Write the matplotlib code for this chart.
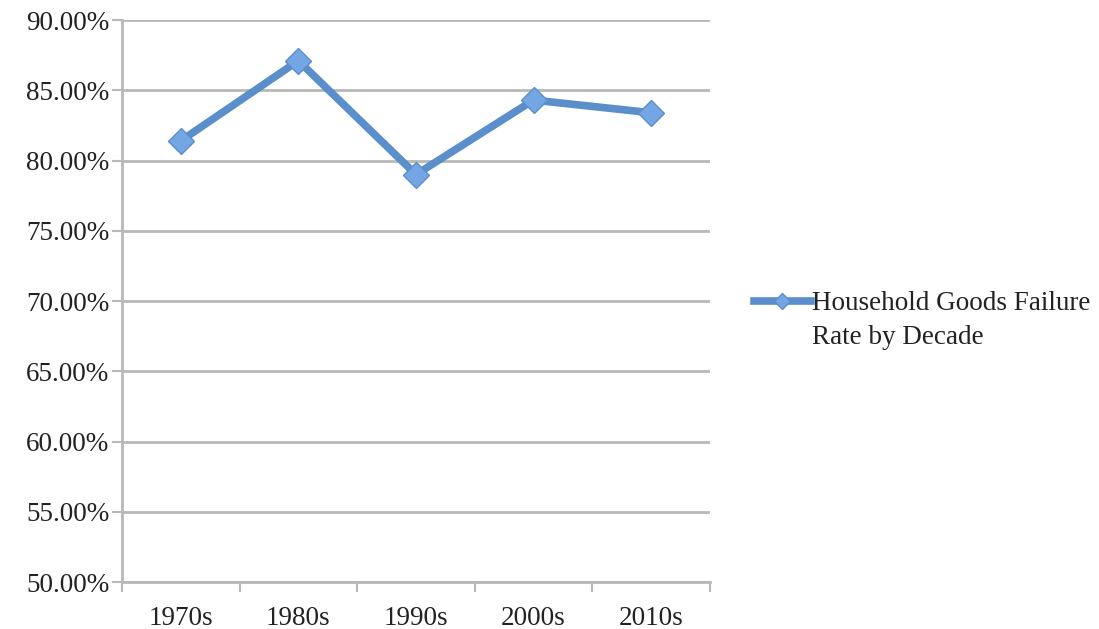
import matplotlib
matplotlib.use("Agg")
import matplotlib.pyplot as plt
from matplotlib.lines import Line2D
from matplotlib.ticker import FixedLocator, FuncFormatter

decades = ["1970s", "1980s", "1990s", "2000s", "2010s"]
failure_rate = [81.4, 87.1, 79.0, 84.3, 83.4]
series_label = ["Household Goods Failure", "Rate by Decade"]
yticks = [50, 55, 60, 65, 70, 75, 80, 85, 90]

plt.rcParams['font.family'] = ['Liberation Serif', 'DejaVu Serif']
text_color = "#222222"
line_color = "#5A8FCC"
grid_color = "#b8b8b8"
fs = 19.5

fig = plt.figure(figsize=(10.99, 6.29), dpi=100)
ax = fig.add_axes([0.111, 0.0747, 0.535, 0.8935])

x = list(range(len(decades)))
ax.plot(x, failure_rate, color=line_color, linewidth=5.5, marker="D",
        markersize=13, markerfacecolor="#73A6E2", markeredgecolor="#5A8FCC",
        markeredgewidth=1, solid_joinstyle="miter", zorder=3)

ax.set_xlim(-0.5, len(decades) - 0.5)
ax.set_ylim(50, 90)
ax.set_yticks(yticks)
ax.yaxis.set_major_formatter(FuncFormatter(lambda v, p: "%.2f%%" % v))
ax.yaxis.grid(True, color=grid_color, linewidth=2)
ax.set_axisbelow(True)

# category boundaries get tick marks, centres get labels
ax.xaxis.set_major_locator(FixedLocator([i - 0.5 for i in range(len(decades) + 1)]))
ax.xaxis.set_major_formatter(FuncFormatter(lambda v, p: ""))
ax.xaxis.set_minor_locator(FixedLocator(x))
ax.set_xticklabels(decades, minor=True)
ax.tick_params(axis="x", which="minor", length=0, pad=17, labelsize=fs, labelcolor=text_color)
ax.tick_params(axis="x", which="major", length=7, width=1.5, color=grid_color)
ax.tick_params(axis="y", length=7, width=1.5, color=grid_color, labelsize=fs, pad=2,
               labelcolor=text_color)

for s in ["top", "right"]:
    ax.spines[s].set_visible(False)
for s in ["left", "bottom"]:
    ax.spines[s].set_color(grid_color)
    ax.spines[s].set_linewidth(2)

# legend: handle sits beside the first line, second line wraps underneath
handle = Line2D([], [], color=line_color, linewidth=5.5, marker="D", markersize=8,
                markerfacecolor="#73A6E2", markeredgecolor="#5A8FCC", markeredgewidth=1)
fig.legend([handle], [series_label[0]], loc="center left", bbox_to_anchor=(0.686, 0.517),
           frameon=False, fontsize=fs, handlelength=2.1, handletextpad=0.05,
           labelcolor=text_color, borderaxespad=0, borderpad=0)
fig.text(0.739, 0.464, series_label[1], fontsize=fs, color=text_color, va="center", ha="left")

fig.savefig("out.png", dpi=100)
